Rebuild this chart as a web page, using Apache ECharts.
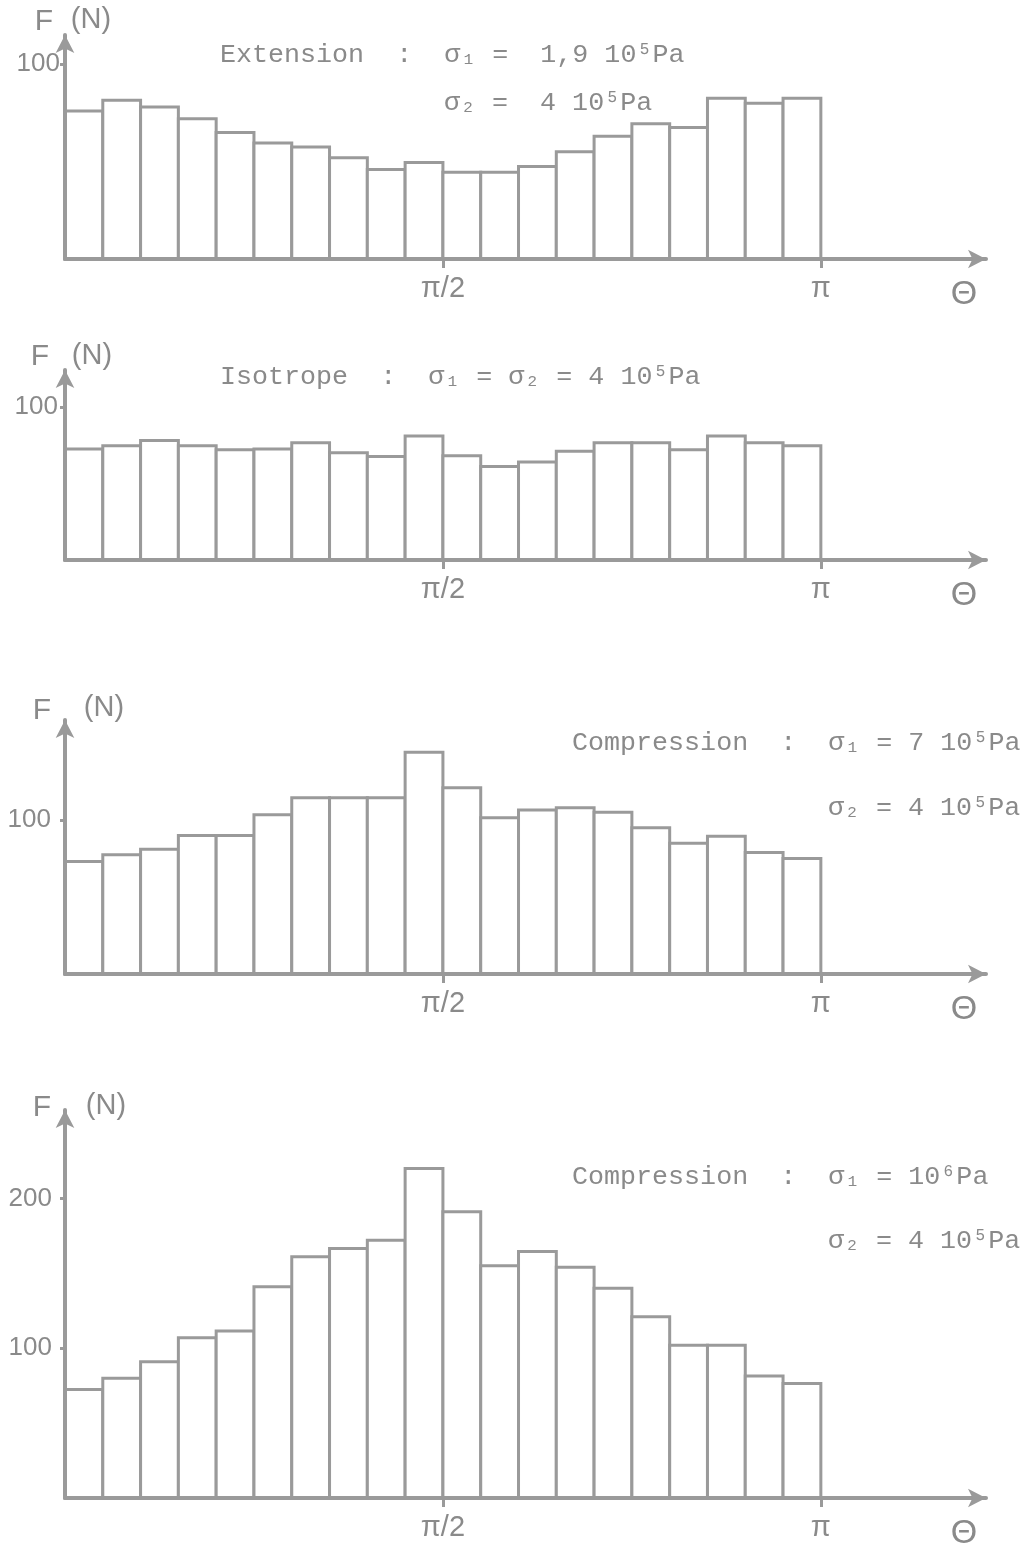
<!DOCTYPE html>
<html>
<head>
<meta charset="utf-8">
<script src="https://cdn.jsdelivr.net/npm/echarts@6/dist/echarts.min.js"></script>
<style>
  html, body { margin: 0; padding: 0; background: #fff; }
  #chart { width: 1026px; height: 1558px; }
</style>
</head>
<body>
<div id="chart"></div>
<script>
// 20 angular bins between 0 and pi, F in newtons
const thetaTicks = [10, 20]
const thetaTickLabels = ['\u03c0/2', '\u03c0']

const extensionF = [76, 81.5, 78, 72, 65, 59.5, 57.5, 52, 46, 49.5, 44.5, 44.5, 47.5, 55, 63, 69.5, 67.5, 82.5, 80, 82.5]
const isotropeF = [72.5, 74.5, 78, 74.5, 72, 72.5, 76.5, 70, 67.5, 81, 68, 61, 64, 71, 76.5, 76.5, 72, 81, 76.5, 74.5]
const compression7F = [73, 77.5, 81, 90, 90, 103.5, 114.5, 114.5, 114.5, 144, 121, 101.5, 106.5, 108, 105, 95, 85, 89.5, 79, 75]
const compression10F = [72.5, 80, 91, 107, 111.5, 141, 161, 166.5, 172, 220, 191, 155, 164.5, 154, 140, 121, 102, 102, 81.5, 76.5]

const yTicks1 = [100]
const yTicks2 = [100]
const yTicks3 = [100]
const yTicks4 = [100, 200]

const notes1 = ['Extension  :  \u03c3\u2081 =  1,9 10\u2075Pa', '\u03c3\u2082 =  4 10\u2075Pa']
const notes2 = ['Isotrope  :  \u03c3\u2081 = \u03c3\u2082 = 4 10\u2075Pa']
const notes3 = ['Compression  :  \u03c3\u2081 = 7 10\u2075Pa', '\u03c3\u2082 = 4 10\u2075Pa']
const notes4 = ['Compression  :  \u03c3\u2081 = 10\u2076Pa', '\u03c3\u2082 = 4 10\u2075Pa']

const GREY = '#9a9a9a'
const INK = '#8a8a8a'
const MONO = '"Liberation Mono", "DejaVu Sans Mono", monospace'
const SANS = '"Liberation Sans", "DejaVu Sans", sans-serif'

// layout of each panel (pixels) and its y range
const panels = [
  { values: extensionF, yTicks: yTicks1, top: 35, height: 224, yMax: 115, labelMargin: 5,
    notes: notes1, noteX: [220, 444], noteY: [55, 103], fX: 44, fY: 22, nX: 91, nY: 20 },
  { values: isotropeF, yTicks: yTicks2, top: 370, height: 190, yMax: 124, labelMargin: 7,
    notes: notes2, noteX: [220], noteY: [377], fX: 40, fY: 357, nX: 92, nY: 356 },
  { values: compression7F, yTicks: yTicks3, top: 720, height: 254, yMax: 165, labelMargin: 14,
    notes: notes3, noteX: [572, 828], noteY: [743, 808], fX: 42, fY: 711, nX: 104, nY: 708 },
  { values: compression10F, yTicks: yTicks4, top: 1110, height: 388, yMax: 259, labelMargin: 13,
    notes: notes4, noteX: [572, 828], noteY: [1177, 1241], fX: 42, fY: 1108, nX: 106, nY: 1106 },
]

function renderBin(params, api) {
  const topLeft = api.coord([api.value(0), api.value(2)])
  const bottomRight = api.coord([api.value(1), 0])
  return {
    type: 'rect',
    shape: {
      x: topLeft[0],
      y: topLeft[1],
      width: bottomRight[0] - topLeft[0],
      height: bottomRight[1] - topLeft[1],
    },
    style: { fill: '#fff', stroke: GREY, lineWidth: 3 },
  }
}

const chart = echarts.init(document.getElementById('chart'), null, { renderer: 'canvas' })

const grid = []
const xAxis = []
const yAxis = []
const series = []
const graphic = []

panels.forEach((p, i) => {
  grid.push({ left: 65, width: 921, top: p.top, height: p.height })
  xAxis.push({
    type: 'value',
    gridIndex: i,
    min: 0,
    max: 24.37,
    z: 5,
    name: '\u0398',
    nameLocation: 'end',
    nameGap: -22,
    nameTextStyle: { color: INK, fontFamily: SANS, fontSize: 34, align: 'center', verticalAlign: 'top', padding: [19, 0, 0, 0] },
    axisLine: { lineStyle: { color: GREY, width: 4 }, symbol: ['none', 'arrow'], symbolSize: [14, 18] },
    axisTick: { customValues: thetaTicks, length: 9, lineStyle: { color: GREY, width: 3 } },
    axisLabel: {
      customValues: thetaTicks,
      formatter: v => thetaTickLabels[thetaTicks.indexOf(v)] || '',
      color: INK, fontFamily: SANS, fontSize: 29, margin: 15,
    },
    splitLine: { show: false },
  })
  yAxis.push({
    type: 'value',
    gridIndex: i,
    min: 0,
    max: p.yMax,
    z: 5,
    axisLine: { show: true, lineStyle: { color: GREY, width: 4 }, symbol: ['none', 'arrow'], symbolSize: [14, 18] },
    axisTick: { show: true, customValues: p.yTicks, length: 5, lineStyle: { color: GREY, width: 3 } },
    axisLabel: { customValues: p.yTicks, color: INK, fontFamily: SANS, fontSize: 26, margin: p.labelMargin },
    splitLine: { show: false },
  })
  series.push({
    type: 'custom',
    xAxisIndex: i,
    yAxisIndex: i,
    renderItem: renderBin,
    encode: { x: [0, 1], y: 2 },
    data: p.values.map((v, k) => [k, k + 1, v]),
    z: 2,
  })
  graphic.push(
    { type: 'text', x: p.fX, y: p.fY, style: { text: 'F', fill: INK, font: '30px ' + SANS, align: 'center', verticalAlign: 'middle' } },
    { type: 'text', x: p.nX, y: p.nY, style: { text: '(N)', fill: INK, font: '29px ' + SANS, align: 'center', verticalAlign: 'middle' } }
  )
  p.notes.forEach((t, k) => {
    graphic.push({
      type: 'text', x: p.noteX[k], y: p.noteY[k],
      style: { text: t, fill: INK, font: '26.7px ' + MONO, align: 'left', verticalAlign: 'middle' },
    })
  })
})

chart.setOption({
  backgroundColor: '#fff',
  animation: false,
  grid,
  xAxis,
  yAxis,
  series,
  graphic,
})
</script>
</body>
</html>
